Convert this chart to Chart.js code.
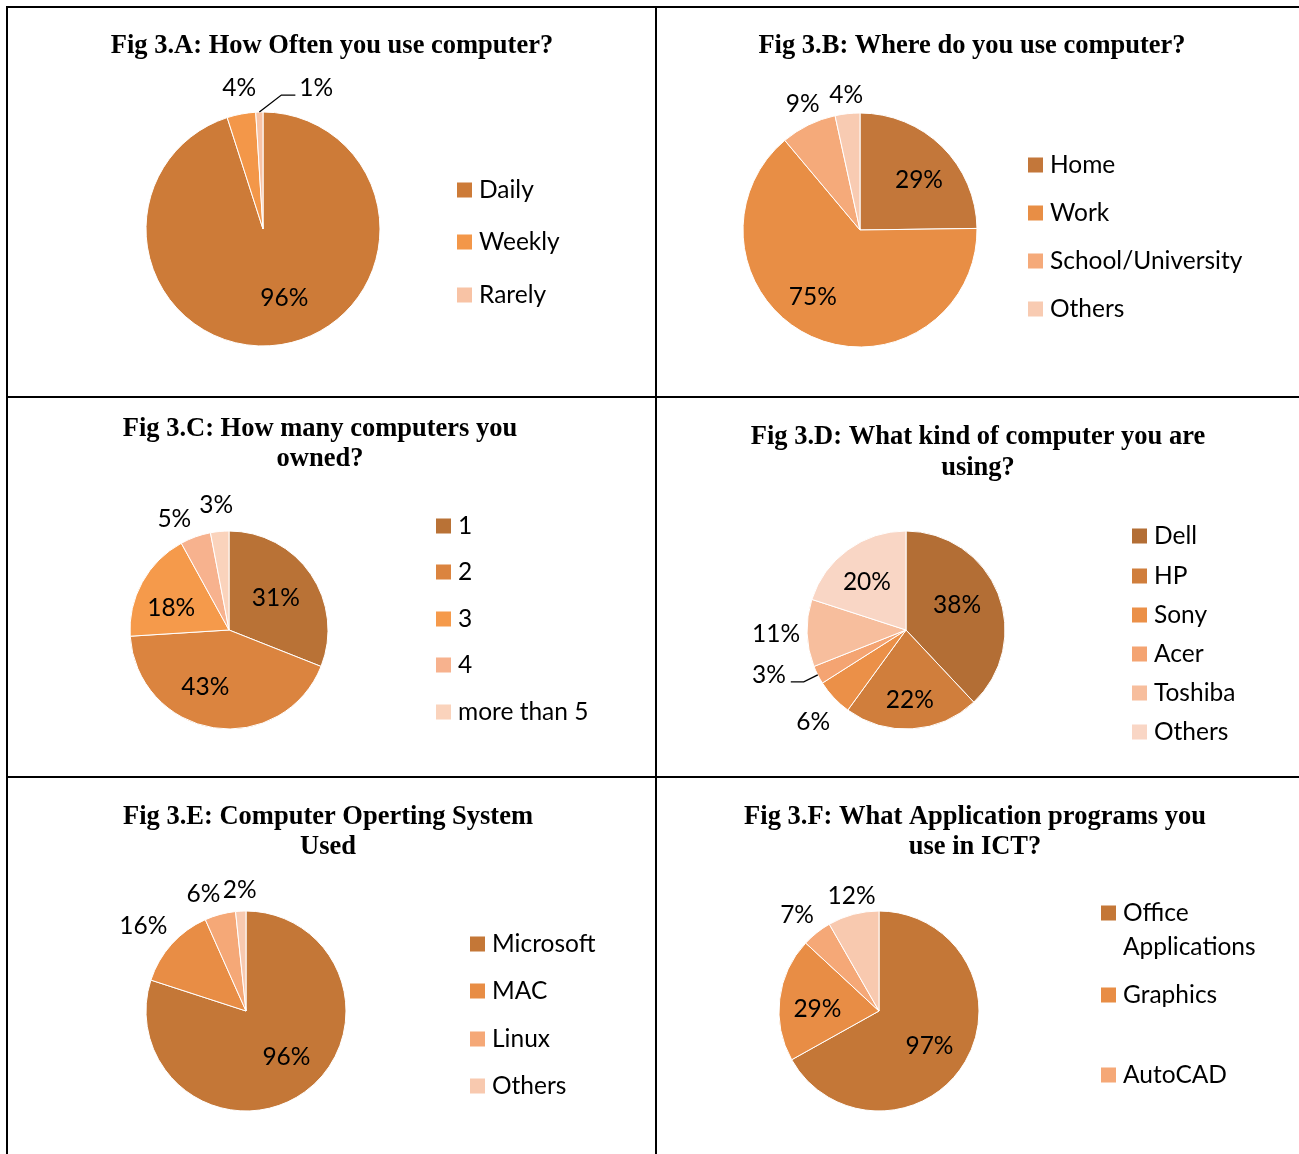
<!DOCTYPE html>
<html>
<head>
<meta charset="utf-8">
<script src="https://cdn.jsdelivr.net/npm/chart.js@4.4.1/dist/chart.umd.min.js"></script>
<style>
  body { margin: 0; background: #fff; }
  #page { position: relative; width: 1299px; height: 1154px; overflow: hidden; background: #fff; }
  #page canvas { position: absolute; }
  .rule { position: absolute; background: #000; }
</style>
</head>
<body>
<div id="page">
  <canvas id="figA"></canvas>
  <canvas id="figB"></canvas>
  <canvas id="figC"></canvas>
  <canvas id="figD"></canvas>
  <canvas id="figE"></canvas>
  <canvas id="figF"></canvas>
  <div class="rule" style="left:6px;top:6px;width:1293px;height:2px"></div>
  <div class="rule" style="left:6px;top:396px;width:1293px;height:2px"></div>
  <div class="rule" style="left:6px;top:776px;width:1293px;height:2px"></div>
  <div class="rule" style="left:6px;top:6px;width:2px;height:1148px"></div>
  <div class="rule" style="left:655px;top:6px;width:2px;height:1148px"></div>
</div>
<script>
// Fig 3.A
const freqLabels = ['Daily', 'Weekly', 'Rarely'];
const freqValues = [96, 4, 1];
// Fig 3.B
const placeLabels = ['Home', 'Work', 'School/University', 'Others'];
const placeValues = [29, 75, 9, 4];
// Fig 3.C
const ownedLabels = ['1', '2', '3', '4', 'more than 5'];
const ownedValues = [31, 43, 18, 5, 3];
// Fig 3.D
const brandLabels = ['Dell', 'HP', 'Sony', 'Acer', 'Toshiba', 'Others'];
const brandValues = [38, 22, 6, 3, 11, 20];
// Fig 3.E
const osLabels = ['Microsoft', 'MAC', 'Linux', 'Others'];
const osValues = [96, 16, 6, 2];
// Fig 3.F (last slice has no legend entry in the original)
const appLabels = ['Office Applications', 'Graphics', 'AutoCAD', ''];
const appValues = [97, 29, 7, 12];

// colours
const freqColors = ['#cd7b38', '#f39749', '#f8c3a5'];
const placeColors = ['#c3773a', '#e88e45', '#f5aa7a', '#f8cbb2'];
const ownedColors = ['#b97236', '#db843f', '#f59a4b', '#f7b28e', '#fad3bc'];
const brandColors = ['#b36e35', '#d07e3c', '#eb9048', '#f4a472', '#f7be9d', '#f9d6c5'];
const osColors = ['#c47737', '#e88d45', '#f5a877', '#f8c9af'];
const appColors = ['#c47737', '#e88d45', '#f5a877', '#f8c9af'];

const TITLE_FONT = 'bold 26.5px "Liberation Serif", "Times New Roman", serif';
const TEXT_FONT = '24.5px Lato, "Open Sans", sans-serif';

function wrapText(ctx, text, maxWidth) {
  if (!maxWidth) return [text];
  const words = text.split(' ');
  const lines = [];
  let line = '';
  words.forEach(w => {
    const test = line ? line + ' ' + w : w;
    if (line && ctx.measureText(test).width > maxWidth) {
      lines.push(line);
      line = w;
    } else {
      line = test;
    }
  });
  lines.push(line);
  return lines;
}

// draws title, legend and value labels for one panel
function panelPlugin(layout) {
  const ox = layout.cell.x, oy = layout.cell.y;
  const nudges = layout.nudges || {};
  return {
    id: 'panel',
    afterDraw(chart) {
      const ctx = chart.ctx;
      ctx.save();
      ctx.fillStyle = '#000';

      // title
      ctx.font = TITLE_FONT;
      ctx.textAlign = 'center';
      ctx.textBaseline = 'middle';
      layout.title.lines.forEach((t, i) => {
        ctx.fillText(t, layout.title.x - ox, layout.title.ys[i] - oy + 1);
      });

      // legend
      ctx.font = TEXT_FONT;
      ctx.textAlign = 'left';
      const ds = chart.data.datasets[0];
      let k = 0;
      chart.data.labels.forEach((label, i) => {
        if (!label) return;
        const y = layout.legend.ys[k++] - oy;
        const x = layout.legend.x - ox;
        ctx.fillStyle = ds.backgroundColor[i];
        ctx.fillRect(x, y - 7.5, 15, 15);
        ctx.fillStyle = '#000';
        wrapText(ctx, label, layout.legend.wrap).forEach((line, j) => {
          ctx.fillText(line, x + 22, y + j * 34);
        });
      });

      // value labels
      const meta = chart.getDatasetMeta(0);
      const total = ds.data.reduce((a, b) => a + b, 0);
      meta.data.forEach((arc, i) => {
        const p = arc.getProps(['x', 'y', 'startAngle', 'endAngle', 'outerRadius'], true);
        const mid = (p.startAngle + p.endAngle) / 2;
        const cos = Math.cos(mid), sin = Math.sin(mid);
        const text = ds.data[i] + '%';
        const leader = (layout.leaders || []).find(l => l.index === i);
        ctx.fillStyle = '#000';
        if (leader) {
          const ax = p.x + cos * p.outerRadius, ay = p.y + sin * p.outerRadius;
          const ex = ax + leader.dx, ey = ay + leader.dy;
          const fx = ex + leader.run;
          ctx.strokeStyle = '#000';
          ctx.lineWidth = 1.3;
          ctx.beginPath();
          ctx.moveTo(ax, ay);
          ctx.lineTo(ex, ey);
          ctx.lineTo(fx, ey);
          ctx.stroke();
          ctx.textBaseline = 'alphabetic';
          ctx.textAlign = leader.run > 0 ? 'left' : 'right';
          ctx.fillText(text, fx + (leader.run > 0 ? 4 : -5), ey + 1);
          return;
        }
        ctx.textAlign = 'center';
        ctx.textBaseline = 'middle';
        const inside = ds.data[i] / total >= 0.15;
        const d = inside ? p.outerRadius * 0.62 : p.outerRadius + (layout.outDist || 28);
        const n = nudges[i] || [0, 0];
        ctx.fillText(text, p.x + cos * d + n[0], p.y + sin * d + n[1]);
      });
      ctx.restore();
    }
  };
}

function makePie(id, labels, values, colors, layout) {
  const canvas = document.getElementById(id);
  const cell = layout.cell;
  canvas.style.left = cell.x + 'px';
  canvas.style.top = cell.y + 'px';
  canvas.style.width = cell.w + 'px';
  canvas.style.height = cell.h + 'px';
  canvas.width = cell.w;
  canvas.height = cell.h;
  const cx = layout.pie.cx - cell.x;
  const cy = layout.pie.cy - cell.y;
  const r = layout.pie.r + 0.5;

  new Chart(canvas, {
    type: 'pie',
    data: {
      labels: labels,
      datasets: [{
        data: values,
        backgroundColor: colors,
        borderColor: '#ffffff',
        borderWidth: 1
      }]
    },
    options: {
      responsive: false,
      animation: false,
      layout: {
        padding: { left: cx - r, top: cy - r, right: cell.w - cx - r, bottom: cell.h - cy - r }
      },
      plugins: {
        legend: { display: false },
        title: { display: false },
        tooltip: { enabled: false }
      }
    },
    plugins: [panelPlugin(layout)]
  });
}

makePie('figA', freqLabels, freqValues, freqColors, {
  cell: { x: 8, y: 8, w: 647, h: 388 },
  title: { x: 332, ys: [45], lines: ['Fig 3.A: How Often you use computer?'] },
  pie: { cx: 263, cy: 229, r: 117 },
  legend: { x: 457, ys: [190, 242, 295] },
  outDist: 28,
  nudges: { 0: [10, -3], 1: [3, 2] },
  leaders: [{ index: 2, dx: 22, dy: -17, run: 14 }]
});

makePie('figB', placeLabels, placeValues, placeColors, {
  cell: { x: 657, y: 8, w: 642, h: 388 },
  title: { x: 972, ys: [45], lines: ['Fig 3.B: Where do you use computer?'] },
  pie: { cx: 860, cy: 230, r: 117 },
  legend: { x: 1028, ys: [165, 213, 261, 309] },
  outDist: 22,
  nudges: { 0: [8, 2], 1: [-17, 1], 2: [4, -1], 3: [1, 3] }
});

makePie('figC', ownedLabels, ownedValues, ownedColors, {
  cell: { x: 8, y: 398, w: 647, h: 378 },
  title: { x: 320, ys: [428, 458], lines: ['Fig 3.C: How many computers you', 'owned?'] },
  pie: { cx: 229, cy: 630, r: 99 },
  legend: { x: 436, ys: [526, 572, 619, 665, 712] },
  outDist: 27,
  nudges: { 0: [-4, 3], 1: [-14, -4], 2: [-4, 8], 3: [-12, 8], 4: [-1, 1] }
});

makePie('figD', brandLabels, brandValues, brandColors, {
  cell: { x: 657, y: 398, w: 642, h: 378 },
  title: { x: 978, ys: [436, 467], lines: ['Fig 3.D: What kind of computer you are', 'using?'] },
  pie: { cx: 906, cy: 630, r: 99 },
  legend: { x: 1132, ys: [536, 576, 615, 654, 693, 732] },
  outDist: 31,
  nudges: { 0: [-6, -2], 1: [0, 9], 2: [2, 3], 5: [-3, 2] },
  leaders: [{ index: 3, dx: -14, dy: 7, run: -13 }]
});

makePie('figE', osLabels, osValues, osColors, {
  cell: { x: 8, y: 778, w: 647, h: 376 },
  title: { x: 328, ys: [816, 846], lines: ['Fig 3.E: Computer Operting System', 'Used'] },
  pie: { cx: 246, cy: 1011, r: 100 },
  legend: { x: 470, ys: [944, 991, 1039, 1086] },
  outDist: 22,
  nudges: { 0: [4, -4], 1: [-12, -3], 2: [-11, 1], 3: [0, 1] }
});

makePie('figF', appLabels, appValues, appColors, {
  cell: { x: 657, y: 778, w: 642, h: 376 },
  title: { x: 975, ys: [816, 846], lines: ['Fig 3.F: What Application programs you', 'use in ICT?'] },
  pie: { cx: 879, cy: 1011, r: 100 },
  legend: { x: 1101, ys: [913, 995, 1075], wrap: 140 },
  outDist: 22,
  nudges: { 0: [-3, 4], 1: [0, 5], 2: [-6, 0], 3: [4, 3] }
});
</script>
</body>
</html>
